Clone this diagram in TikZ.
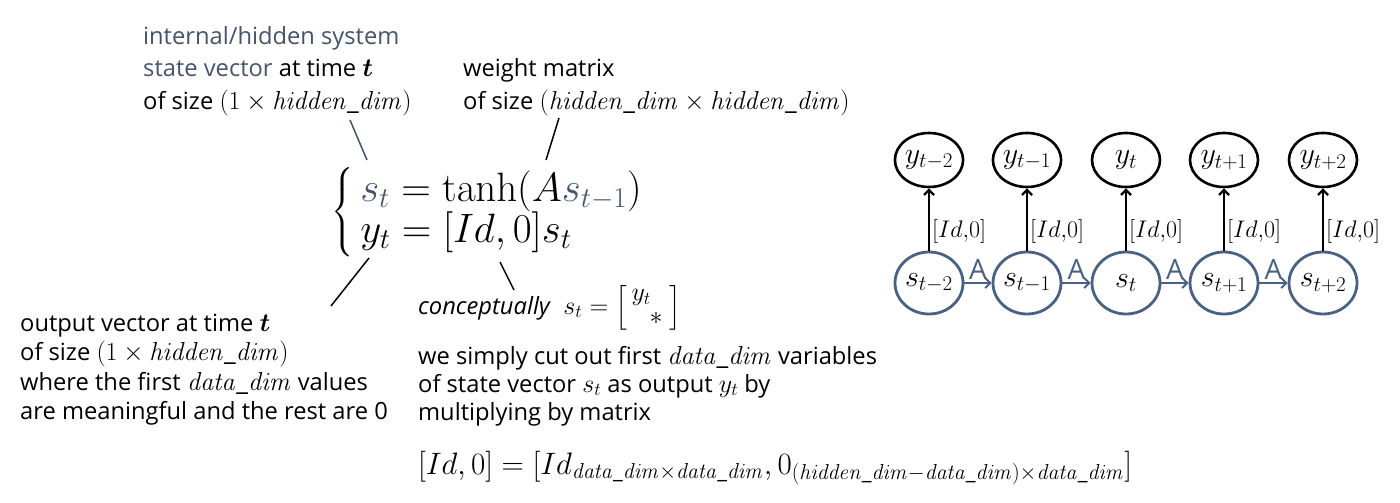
\RequirePackage{fix-cm}
\documentclass[tikz,border=0pt]{standalone}
\usepackage{amsmath,bm}
\usepackage[no-math]{fontspec}
\setmainfont{Open Sans}
\setsansfont{Open Sans}
\usetikzlibrary{arrows.meta,shapes.geometric}
\definecolor{hid}{HTML}{44546A}
\definecolor{nodeblue}{HTML}{4B6182}
\newcommand{\hd}{\mathit{hidden\_dim}}
\newcommand{\dd}{\mathit{data\_dim}}
\newcommand{\mth}[1]{{\fontsize{26}{30}\selectfont$#1$}}
\begin{document}
\begin{tikzpicture}[x=1pt,y=-1pt,
  txt/.style={anchor=base west, inner sep=0pt, font=\fontsize{23.7}{28}\selectfont},
  pointer/.style={line width=1.5pt},
  snode/.style={ellipse, draw=nodeblue, line width=2.8pt, minimum width=68pt, minimum height=62pt, inner sep=0pt, font=\fontsize{30}{30}\selectfont},
  ynode/.style={ellipse, draw=black, line width=2.6pt, minimum width=68pt, minimum height=54pt, inner sep=0pt, font=\fontsize{30}{30}\selectfont},
  uparrow/.style={line width=2.4pt, -{Straight Barb[length=5pt,width=10pt]}},
  rarrow/.style={nodeblue, line width=2pt, -{Straight Barb[length=5pt,width=10pt]}},
  mlabel/.style={font=\fontsize{24}{26}\selectfont, anchor=west, inner sep=2pt},
  alabel/.style={font=\sffamily\fontsize{28}{28}\selectfont, text=nodeblue, inner sep=3pt}
]
\useasboundingbox (0,0) rectangle (1400,503);

% top-left annotation
\node[txt, text=hid] (a1) at (143,45) {internal/hidden system};
\node[txt] (a2) at (143,77) {\textcolor{hid}{state vector} at time \mth{\bm{t}}};
\node[txt] (a3) at (143,110) {of size \mth{(1\times \hd)}};

% weight matrix annotation
\node[txt] (w1) at (463,77) {weight matrix};
\node[txt] (w2) at (463,110) {of size \mth{(\hd\times\hd)}};

% equations (brace + two lines in one node)
\node[anchor=west, inner sep=0pt, font=\fontsize{41}{35}\selectfont] (eq) at (331,212) {$\renewcommand{\arraystretch}{1}\left\{\begin{array}{@{\hspace{7pt}}l@{}}
  \textcolor{hid}{s_t} = \tanh(A\textcolor{hid}{s_{t-1}}) \\
  y_t = [Id,0]s_t
\end{array}\right.$};

% pointer lines
\coordinate (p1a) at (350,120); \coordinate (p1b) at (367,160);
\coordinate (p2a) at (559,118); \coordinate (p2b) at (546,160);
\coordinate (p3a) at (369,258); \coordinate (p3b) at (331,306);
\coordinate (p4a) at (500,262); \coordinate (p4b) at (514,290);
\draw[pointer, hid] (p1a) -- (p1b);
\draw[pointer] (p2a) -- (p2b);
\draw[pointer] (p3a) -- (p3b);
\draw[pointer] (p4a) -- (p4b);

% bottom-left annotation
\node[txt] (b1) at (20,331) {output vector at time \mth{\bm{t}}};
\node[txt] (b2) at (20,360) {of size \mth{(1\times \hd)}};
\node[txt] (b3) at (20,390) {where the first \mth{\dd} values};
\node[txt] (b4) at (20,419) {are meaningful and the rest are 0};

% conceptually block
\node[txt] (c1) at (418,314) {\textit{conceptually}\ \ \mth{s_t = \renewcommand{\arraystretch}{0.82}\left[\begin{array}{@{\,}l@{\;}} y_t \\ \hspace{0.7em}{*} \end{array}\right]}};
\node[txt] (c2) at (418,364) {we simply cut out first \mth{\dd} variables};
\node[txt] (c3) at (418,392) {of state vector \mth{s_t} as output \mth{y_t} by};
\node[txt] (c4) at (418,420) {multiplying by matrix};
\node[anchor=base west, inner sep=0pt, font=\fontsize{31}{34}\selectfont] (c5) at (418,474) {$[Id,0] = [Id_{\dd\times\dd}, 0_{(\hd-\dd)\times\dd}]$};

% graph
\foreach \i/\x/\s in {1/929/{t-2},2/1027/{t-1},3/1126/{t},4/1224/{t+1},5/1323/{t+2}}{
  \node[snode] (s\i) at (\x,283) {$s_{\s}$};
  \node[ynode] (y\i) at (\x,160) {$y_{\s}$};
  \draw[uparrow] (s\i) -- (y\i) node[mlabel, pos=0.3] {$[Id{,}0]$};
}
\foreach \i/\j in {1/2,2/3,3/4,4/5}{
  \draw[rarrow] (s\i) -- (s\j) node[alabel, midway, above] {A};
}
\end{tikzpicture}
\end{document}
